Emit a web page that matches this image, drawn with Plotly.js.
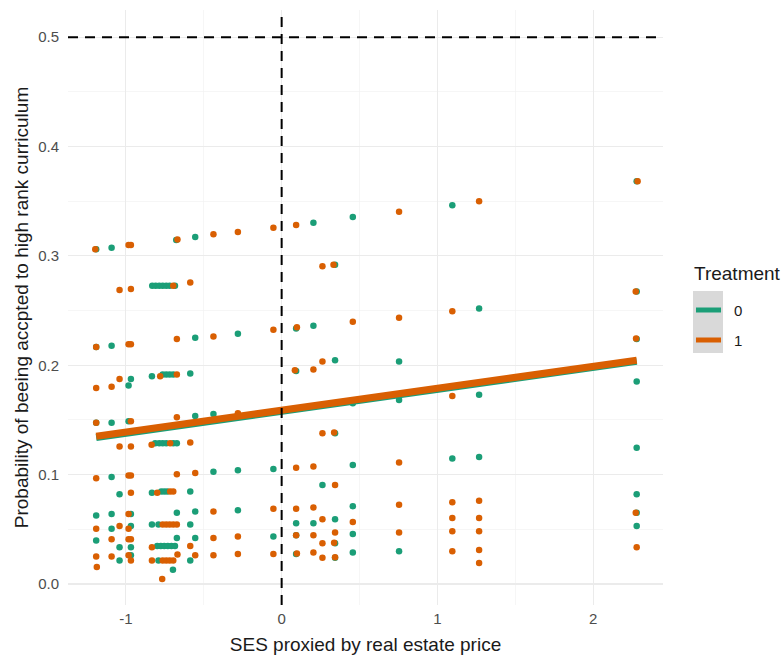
<!DOCTYPE html>
<html>
<head>
<meta charset="utf-8">
<script src="https://cdn.plot.ly/plotly-3.0.1.min.js"></script>
<style>html,body{margin:0;padding:0;background:#fff;}#chart{width:784px;height:659px;}</style>
</head>
<body>
<div id="chart"></div>
<script>
// Treatment 0 (green) points
const x0 = [
  -1.191,-1.191,-1.191,-1.191,-1.191,
  -1.092,-1.092,-1.092,-1.092,-1.092,-1.092,
  -1.041,-1.041,-1.041,
  -0.983,-0.983,
  -0.968,-0.968,-0.968,-0.968,-0.968,
  -0.831,-0.809,-0.786,-0.764,-0.741,-0.719,-0.685,
  -0.833,-0.764,-0.741,-0.719,-0.696,
  -0.812,-0.786,-0.764,-0.741,-0.696,-0.673,
  -0.833,-0.773,-0.754,-0.735,
  -0.833,-0.791,
  -0.799,-0.776,-0.754,-0.731,-0.708,-0.685,
  -0.791,-0.698,
  -0.677,-0.673,-0.673,
  -0.587,-0.587,-0.587,-0.587,
  -0.555,-0.555,-0.555,-0.555,-0.555,
  -0.438,-0.438,
  -0.281,-0.281,-0.281,
  -0.053,-0.053,
  0.093,0.093,0.093,0.093,0.093,
  0.204,0.204,0.204,
  0.262,
  0.343,0.343,0.343,0.343,0.343,0.343,
  0.457,0.457,0.457,0.457,0.457,0.457,
  0.754,0.754,0.754,
  1.096,1.096,
  1.268,1.268,1.268,
  2.280,2.280,2.280,2.280,2.280,2.280,2.280,2.280
];
const y0 = [
  0.3061,0.2166,0.1475,0.0627,0.0397,
  0.3075,0.2179,0.1475,0.0979,0.0639,0.0506,
  0.0821,0.0336,0.0215,
  0.1815,0.1488,
  0.1875,0.0639,0.0530,0.0336,0.0264,
  0.2727,0.2727,0.2727,0.2727,0.2727,0.2727,0.2727,
  0.1900,0.1915,0.1915,0.1915,0.1915,
  0.1288,0.1288,0.1288,0.1288,0.1288,0.1288,
  0.0834,0.0845,0.0845,0.0845,
  0.0543,0.0543,
  0.0348,0.0348,0.0348,0.0348,0.0348,0.0348,
  0.0215,0.0130,
  0.3145,0.0652,0.0421,
  0.1925,0.0845,0.0543,0.0215,
  0.3173,0.2252,0.1536,0.0664,0.0421,
  0.1555,0.1027,
  0.2288,0.1039,0.0675,
  0.1052,0.0434,
  0.2336,0.1948,0.0555,0.0445,0.0275,
  0.3303,0.2361,0.0555,
  0.0906,
  0.2918,0.2045,0.1379,0.0591,0.0373,0.0239,
  0.3355,0.1652,0.1088,0.0712,0.0457,0.0288,
  0.2034,0.1682,0.0300,
  0.3464,0.1148,
  0.2518,0.1730,0.1161,
  0.3682,0.2675,0.2239,0.1852,0.1245,0.0821,0.0652,0.0530
];
// Treatment 1 (orange) points
const x1 = [
  -1.197,-1.191,-1.191,-1.191,-1.191,-1.191,-1.191,-1.187,
  -1.092,-1.092,-1.092,
  -1.041,-1.041,-1.041,-1.041,
  -0.983,-0.983,-0.983,-0.983,-0.983,-0.983,-0.983,
  -0.968,-0.968,-0.968,-0.968,-0.968,-0.968,-0.968,-0.968,-0.968,
  -0.696,-0.780,-0.835,-0.716,-0.799,-0.716,-0.696,
  -0.764,-0.741,-0.719,-0.696,-0.673,
  -0.833,-0.833,-0.764,-0.741,-0.719,-0.696,-0.669,-0.767,
  -0.669,-0.673,-0.673,-0.673,-0.673,
  -0.587,-0.587,-0.587,
  -0.555,-0.555,
  -0.438,-0.438,-0.438,-0.438,-0.438,
  -0.281,-0.281,-0.281,-0.281,
  -0.053,-0.053,-0.053,-0.053,
  0.093,0.098,0.093,0.093,0.093,0.098,0.085,
  0.204,0.204,0.204,0.204,0.204,
  0.262,0.262,0.262,0.262,0.262,0.262,
  0.333,
  0.337,0.343,0.343,0.337,0.343,
  0.457,0.457,
  0.754,0.754,0.754,0.754,0.754,
  1.096,1.096,1.096,1.096,1.096,1.096,
  1.268,1.268,1.268,1.268,1.268,1.268,
  2.286,2.274,2.276,2.274,2.280
];
const y1 = [
  0.3061,0.2166,0.1791,0.1475,0.0966,0.0506,0.0252,0.0155,
  0.1803,0.0409,0.0252,
  0.2688,0.1875,0.1257,0.0530,
  0.3100,0.2191,0.0991,0.0639,0.0506,0.0409,0.0264,
  0.3100,0.2697,0.2191,0.1488,0.1257,0.0991,0.0834,0.0409,0.0215,
  0.2727,0.1900,0.1273,0.1288,0.0834,0.0845,0.0845,
  0.0543,0.0543,0.0543,0.0543,0.0543,
  0.0336,0.0215,0.0215,0.0215,0.0215,0.0215,0.0270,0.0045,
  0.3150,0.2239,0.1915,0.1525,0.1003,
  0.2757,0.1294,0.0348,
  0.1015,0.0264,
  0.3197,0.2264,0.0664,0.0421,0.0264,
  0.3218,0.1561,0.0434,0.0275,
  0.3257,0.2325,0.0688,0.0275,
  0.3282,0.2348,0.1064,0.0688,0.0445,0.0280,0.1955,
  0.1961,0.1075,0.0700,0.0445,0.0288,
  0.2906,0.2034,0.1379,0.0591,0.0373,0.0239,
  0.2918,
  0.1385,0.0906,0.0470,0.0378,0.0245,
  0.2397,0.0566,
  0.3403,0.2434,0.1112,0.0725,0.0470,
  0.2494,0.1718,0.0748,0.0603,0.0482,0.0300,
  0.3500,0.0761,0.0603,0.0482,0.0312,0.0191,
  0.3682,0.2675,0.2245,0.0652,0.0336
];
// fitted probability line per treatment
const fitX = [-1.191, 2.280];
const fitY0 = [0.1340, 0.2036];
const fitY1 = [0.1350, 0.2046];

const treatmentNames = ['0', '1'];
const colors = ['#1b9e77', '#d95f02'];
const xTicks = [-1, 0, 1, 2];
const yTicks = [0, 0.1, 0.2, 0.3, 0.4, 0.5];

const traces = [
  {x: x0, y: y0, type: 'scatter', mode: 'markers', marker: {color: colors[0], size: 6.5}, name: treatmentNames[0], hoverinfo: 'skip'},
  {x: x1, y: y1, type: 'scatter', mode: 'markers', marker: {color: colors[1], size: 6.5}, name: treatmentNames[1], hoverinfo: 'skip'},
  {x: fitX, y: fitY0, type: 'scatter', mode: 'lines', name: treatmentNames[0], line: {color: colors[0], width: 7}},
  {x: fitX, y: fitY1, type: 'scatter', mode: 'lines', name: treatmentNames[1], line: {color: colors[1], width: 7}}
];

// legend (drawn manually to mirror the ggplot guide)
const xp = px => (px - 68) / 595;
const yp = py => (605 - py) / 595;
const legendRows = [310, 340];

const layout = {
  width: 784, height: 659,
  margin: {l: 68, r: 121, t: 10, b: 54},
  paper_bgcolor: '#ffffff', plot_bgcolor: '#ffffff',
  font: {family: 'Liberation Sans, Arial, sans-serif', color: '#4d4d4d', size: 15},
  showlegend: false,
  xaxis: {
    range: [-1.372, 2.449], tickvals: xTicks, ticktext: xTicks.map(String),
    showgrid: true, gridcolor: '#ebebeb', gridwidth: 1.1, zeroline: false, showline: false, ticks: '',
    minor: {dtick: 0.5, tick0: -1.5, showgrid: true, gridcolor: '#f2f2f2', gridwidth: 0.7},
    tickfont: {size: 15, color: '#4d4d4d'}, ticklabelstandoff: 3,
    title: {text: 'SES proxied by real estate price', font: {size: 19, color: '#1a1a1a'}, standoff: 11}
  },
  yaxis: {
    range: [-0.0192, 0.5248], tickvals: yTicks, ticktext: yTicks.map(v => v.toFixed(1)),
    showgrid: true, gridcolor: '#ebebeb', gridwidth: 1.1, zeroline: false, showline: false, ticks: '',
    minor: {dtick: 0.05, tick0: 0.05, showgrid: true, gridcolor: '#f2f2f2', gridwidth: 0.7},
    tickfont: {size: 15, color: '#4d4d4d'}, ticklabelstandoff: 8,
    title: {text: 'Probability of beeing accpted to high rank curriculum', font: {size: 19, color: '#1a1a1a'}, standoff: 4}
  },
  shapes: [
    {type: 'line', xref: 'x', yref: 'paper', x0: 0, x1: 0, y0: 0, y1: 1, line: {color: '#000', width: 2, dash: '10px,7px'}},
    {type: 'line', xref: 'paper', yref: 'y', x0: 0, x1: 1, y0: 0.5, y1: 0.5, line: {color: '#000', width: 2, dash: '10px,7px'}},
    {type: 'rect', xref: 'paper', yref: 'paper', x0: xp(693), x1: xp(723), y0: yp(353), y1: yp(291), fillcolor: '#d9d9d9', line: {width: 0}, layer: 'above'},
    {type: 'line', xref: 'paper', yref: 'paper', x0: xp(696), x1: xp(721), y0: yp(legendRows[0]), y1: yp(legendRows[0]), line: {color: colors[0], width: 5}, layer: 'above'},
    {type: 'line', xref: 'paper', yref: 'paper', x0: xp(696), x1: xp(721), y0: yp(legendRows[1]), y1: yp(legendRows[1]), line: {color: colors[1], width: 5}, layer: 'above'}
  ],
  annotations: [
    {text: 'Treatment', xref: 'paper', yref: 'paper', x: xp(692), y: yp(273), xanchor: 'left', yanchor: 'middle', showarrow: false, font: {size: 19, color: '#1a1a1a'}},
    {text: treatmentNames[0], xref: 'paper', yref: 'paper', x: xp(732), y: yp(legendRows[0]), xanchor: 'left', yanchor: 'middle', showarrow: false, font: {size: 15, color: '#1a1a1a'}},
    {text: treatmentNames[1], xref: 'paper', yref: 'paper', x: xp(732), y: yp(legendRows[1]), xanchor: 'left', yanchor: 'middle', showarrow: false, font: {size: 15, color: '#1a1a1a'}}
  ]
};

Plotly.newPlot('chart', traces, layout, {staticPlot: true, displayModeBar: false});
</script>
</body>
</html>
